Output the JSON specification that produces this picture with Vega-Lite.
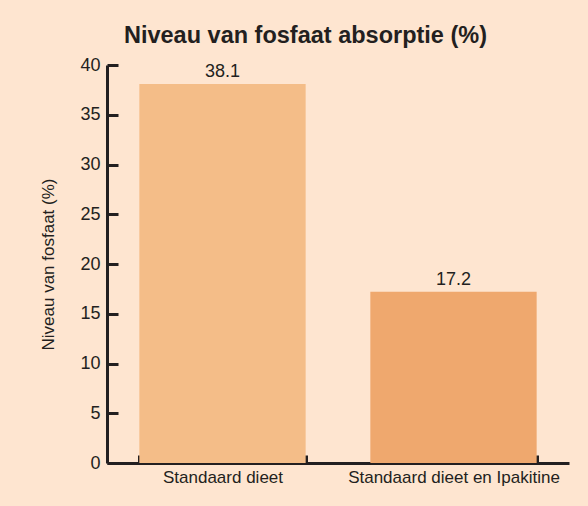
{
  "$schema": "https://vega.github.io/schema/vega-lite/v6.json",
  "autosize": {"type": "none"},
  "width": 462,
  "height": 398,
  "padding": {"left": 107, "top": 65, "right": 19, "bottom": 43},
  "background": "#FEE5D0",
  "title": {
    "text": "Niveau van fosfaat absorptie (%)",
    "font": "Liberation Sans",
    "fontSize": 23.5,
    "fontWeight": "bold",
    "color": "#231F20",
    "anchor": "middle",
    "dx": -32.5,
    "offset": 9
  },
  "config": {
    "view": {"stroke": null},
    "font": "Liberation Sans",
    "axis": {
      "domainColor": "#231F20",
      "domainWidth": 3,
      "tickColor": "#231F20",
      "tickWidth": 3,
      "labelColor": "#231F20",
      "labelFont": "Liberation Sans",
      "titleFont": "Liberation Sans",
      "titleColor": "#231F20",
      "grid": false
    }
  },
  "data": {
    "values": [
      {"groep": "Standaard dieet", "waarde": 38.1, "label": "38.1"},
      {"groep": "Standaard dieet en Ipakitine", "waarde": 17.2, "label": "17.2"}
    ]
  },
  "encoding": {
    "x": {
      "field": "groep",
      "type": "nominal",
      "sort": null,
      "scale": {"paddingInner": 0.28, "paddingOuter": 0.14},
      "axis": {
        "title": null,
        "labelAngle": 0,
        "labelFontSize": 17,
        "labelLimit": 0,
        "labelPadding": 14,
        "tickBand": "extent",
        "tickExtra": true,
        "tickSize": -8
      }
    },
    "y": {
      "field": "waarde",
      "type": "quantitative",
      "scale": {"domain": [0, 40], "nice": false},
      "axis": {
        "values": [0, 5, 10, 15, 20, 25, 30, 35, 40],
        "title": "Niveau van fosfaat (%)",
        "titleFontSize": 17,
        "titleFontWeight": "normal",
        "titlePadding": 22,
        "labelFontSize": 18,
        "labelPadding": 18,
        "tickSize": -11
      }
    }
  },
  "layer": [
    {
      "mark": {"type": "bar"},
      "encoding": {
        "color": {
          "field": "groep",
          "type": "nominal",
          "sort": null,
          "scale": {"range": ["#F4BD88", "#EFA86E"]},
          "legend": null
        }
      }
    },
    {
      "mark": {"type": "text", "dy": -7, "baseline": "alphabetic", "fontSize": 18, "color": "#231F20", "font": "Liberation Sans"},
      "encoding": {"text": {"field": "label"}}
    }
  ]
}
